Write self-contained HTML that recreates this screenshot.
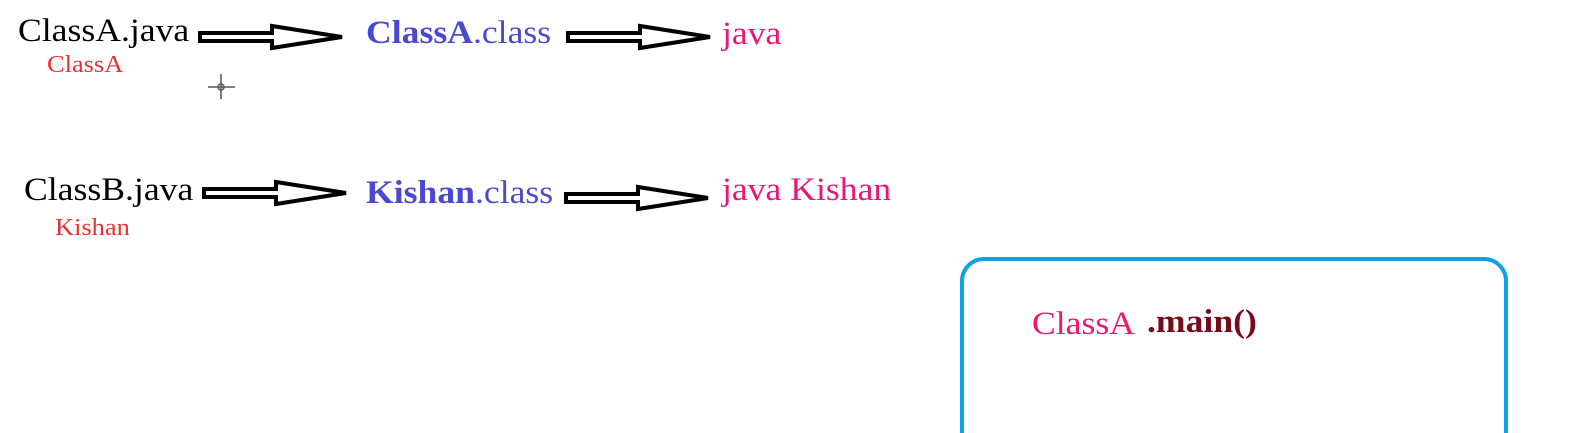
<!DOCTYPE html>
<html><head><meta charset="utf-8"><style>
html,body{margin:0;padding:0;background:#fff;}
body{width:1591px;height:433px;overflow:hidden;position:relative;font-family:"Liberation Serif",serif;}
.t{position:absolute;white-space:nowrap;line-height:1;transform-origin:0 0;transform:scaleX(1.08);}
.s{transform:scaleX(1.1);}
</style></head><body>
<svg width="1591" height="433" style="position:absolute;left:0;top:0;overflow:hidden">
<defs>
<polygon id="ar" points="0,-4 72,-4 72,-11 142,0 72,11 72,4 0,4" fill="#fff" stroke="#000" stroke-width="4" stroke-linejoin="miter"/>
</defs>
<use href="#ar" x="200" y="37"/>
<use href="#ar" x="568" y="37"/>
<use href="#ar" x="204" y="193"/>
<use href="#ar" x="566" y="198"/>
<rect x="962" y="259" width="544" height="200" rx="22" ry="22" fill="none" stroke="#0aa5e0" stroke-width="4"/>
<g stroke="#555" stroke-width="1.5" fill="none"><line x1="221" y1="74" x2="221" y2="99"/><line x1="208" y1="87" x2="235" y2="87"/><circle cx="221" cy="87" r="3"/></g>
</svg>
<div class="t" style="left:18px;top:15px;font-size:33px;color:#000">ClassA.java</div>
<div class="t s" style="left:47px;top:53px;font-size:24px;color:#f03030">ClassA</div>
<div class="t" style="left:366px;top:17px;font-size:33px;color:#4a4ad0"><b>ClassA</b>.class</div>
<div class="t" style="left:722px;top:18px;font-size:33px;color:#e8167a">java</div>
<div class="t" style="left:24px;top:174px;font-size:33px;color:#000">ClassB.java</div>
<div class="t s" style="left:55px;top:216px;font-size:24px;color:#f03030">Kishan</div>
<div class="t" style="left:366px;top:177px;font-size:33px;color:#4a4ad0"><b>Kishan</b>.class</div>
<div class="t" style="left:722px;top:174px;font-size:33px;color:#e8167a">java Kishan</div>
<div class="t" style="left:1032px;top:308px;font-size:33px;color:#f0166a">ClassA</div>
<div class="t" style="left:1147px;top:306px;font-size:33px;color:#7a0a1a;font-weight:bold">.main()</div>
</body></html>
